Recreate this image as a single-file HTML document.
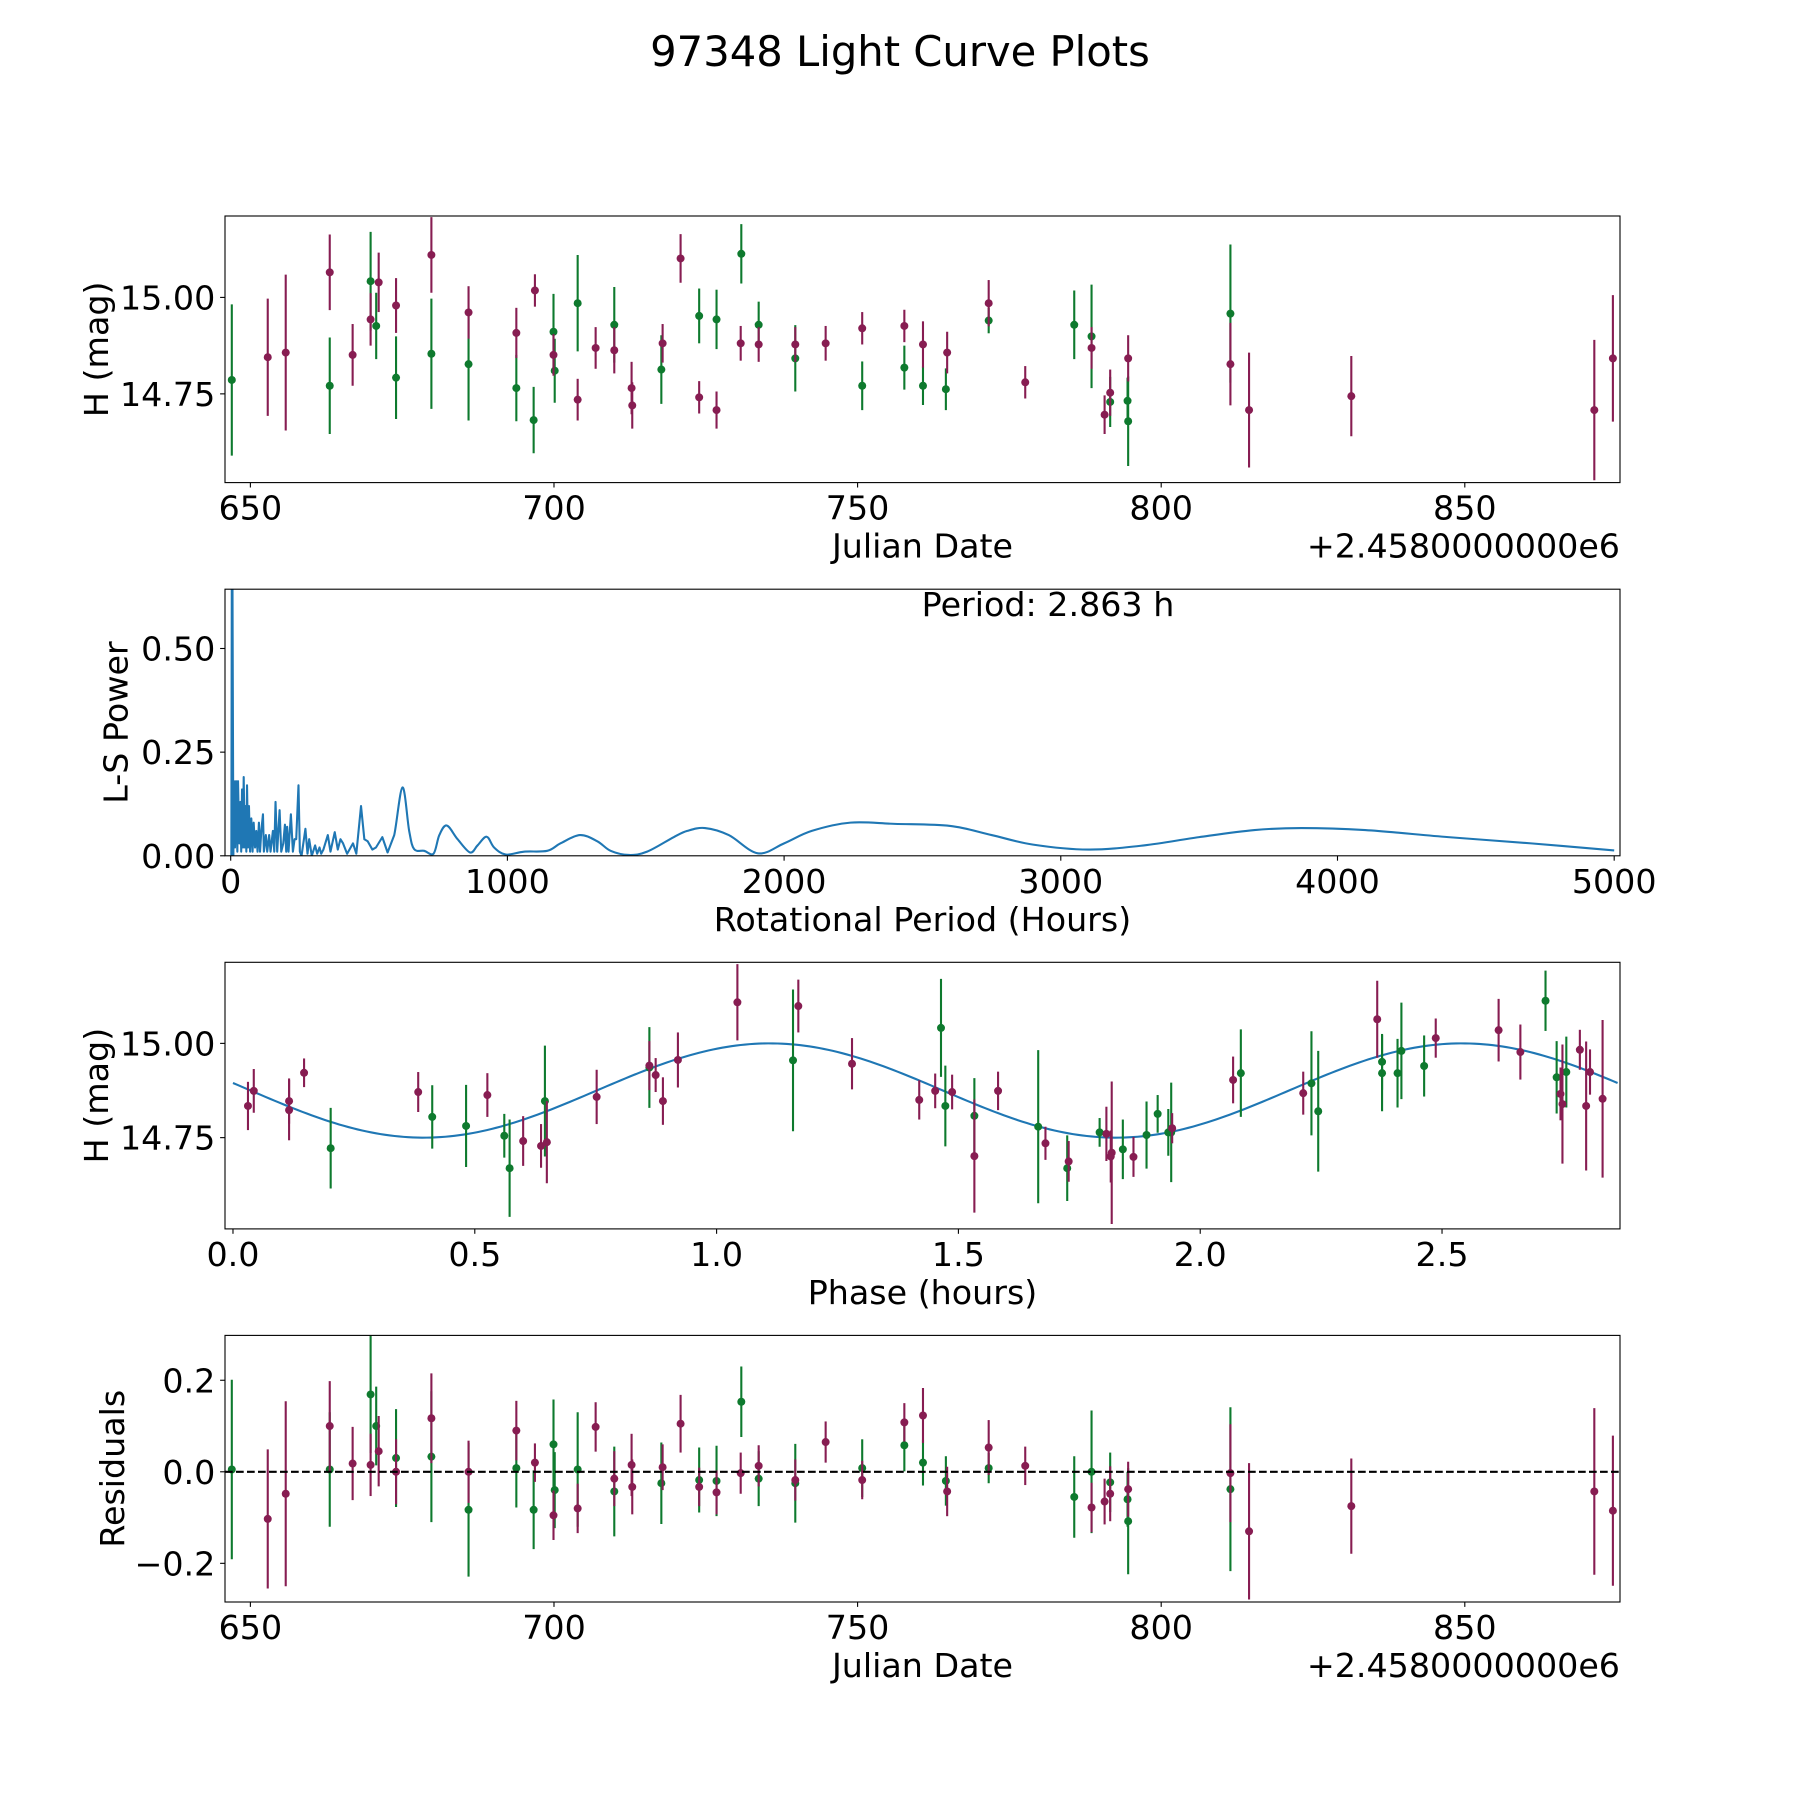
<!DOCTYPE html>
<html><head><meta charset="utf-8"><title>97348 Light Curve Plots</title>
<style>html,body{margin:0;padding:0;background:#fff}svg{display:block}text{font-family:"DejaVu Sans","Liberation Sans",sans-serif;fill:#000}</style>
</head><body>
<svg id="fig" xmlns="http://www.w3.org/2000/svg" width="1800" height="1800" viewBox="0 0 1800 1800">
<rect width="1800" height="1800" fill="#fff"/>
<text x="900" y="66" font-size="41.7" text-anchor="middle">97348 Light Curve Plots</text>
</svg>
<script>
// ---- data: light curve (Julian Date offset +2458000) ----
const greenDates=[646.94,663.07,669.80,670.72,673.99,679.81,685.93,693.80,696.65,699.92,700.12,703.90,709.93,717.68,723.91,726.77,730.85,733.71,739.74,750.76,757.70,760.77,764.54,771.59,785.68,788.53,791.60,794.46,794.56,811.40];
const greenMag=[14.786,14.771,15.042,14.926,14.792,14.854,14.827,14.765,14.682,14.911,14.810,14.985,14.929,14.813,14.952,14.943,15.113,14.929,14.842,14.771,14.818,14.771,14.762,14.940,14.929,14.899,14.729,14.732,14.679,14.958];
const greenErr=[0.196,0.125,0.128,0.086,0.107,0.143,0.146,0.086,0.086,0.098,0.083,0.125,0.098,0.089,0.071,0.077,0.077,0.060,0.086,0.063,0.057,0.050,0.054,0.033,0.089,0.134,0.065,0.060,0.116,0.179];
const greenRes=[0.005,0.005,0.169,0.10,0.03,0.033,-0.083,0.008,-0.083,0.06,-0.04,0.005,-0.043,-0.025,-0.018,-0.02,0.153,-0.015,-0.025,0.008,0.058,0.02,-0.02,0.008,-0.055,0.0,-0.023,-0.06,-0.108,-0.038];
const purpleDates=[652.86,655.82,663.07,666.84,669.80,671.13,673.99,679.81,685.93,693.80,696.86,699.92,703.90,706.86,709.93,712.78,712.89,717.89,720.85,723.91,726.77,730.75,733.71,739.74,744.74,750.76,757.70,760.77,764.75,771.59,777.61,788.53,790.68,791.60,794.56,811.40,814.47,831.31,871.33,874.39];
const purpleMag=[14.845,14.857,15.065,14.851,14.943,15.039,14.979,15.110,14.961,14.908,15.018,14.851,14.735,14.869,14.863,14.765,14.720,14.881,15.101,14.741,14.708,14.881,14.878,14.878,14.881,14.920,14.926,14.878,14.857,14.985,14.780,14.869,14.696,14.753,14.842,14.827,14.708,14.744,14.708,14.842];
const purpleErr=[0.152,0.202,0.098,0.080,0.068,0.077,0.071,0.098,0.068,0.065,0.042,0.054,0.054,0.054,0.060,0.068,0.060,0.050,0.063,0.042,0.048,0.045,0.045,0.045,0.045,0.042,0.042,0.060,0.054,0.060,0.042,0.054,0.050,0.060,0.060,0.107,0.149,0.104,0.182,0.164];
const purpleRes=[-0.103,-0.048,0.10,0.018,0.015,0.045,0.0,0.117,0.0,0.09,0.02,-0.095,-0.08,0.098,-0.015,0.015,-0.033,0.01,0.105,-0.033,-0.045,-0.003,0.013,-0.018,0.065,-0.018,0.108,0.123,-0.043,0.053,0.013,-0.078,-0.065,-0.048,-0.038,-0.003,-0.13,-0.075,-0.043,-0.085];
// ---- data: phased curve ----
const greenPhase=[0.202,0.412,0.482,0.561,0.572,0.645,0.861,1.158,1.464,1.473,1.533,1.665,1.725,1.792,1.840,1.889,1.912,1.934,1.940,2.084,2.230,2.244,2.376,2.376,2.408,2.416,2.463,2.714,2.737,2.757];
const greenPhaseMag=[14.722,14.805,14.781,14.755,14.669,14.847,14.936,14.955,15.041,14.834,14.808,14.779,14.669,14.764,14.719,14.757,14.813,14.764,14.764,14.921,14.894,14.820,14.951,14.921,14.921,14.980,14.940,15.113,14.910,14.924];
const greenPhaseErr=[0.107,0.084,0.109,0.058,0.129,0.147,0.107,0.188,0.130,0.107,0.100,0.203,0.087,0.038,0.079,0.089,0.050,0.062,0.132,0.116,0.138,0.160,0.074,0.101,0.091,0.128,0.081,0.080,0.096,0.094];
const purplePhase=[0.031,0.043,0.116,0.116,0.147,0.383,0.526,0.600,0.637,0.649,0.752,0.861,0.874,0.889,0.920,1.043,1.169,1.280,1.419,1.452,1.487,1.533,1.582,1.680,1.728,1.806,1.817,1.815,1.862,1.942,2.068,2.213,2.366,2.487,2.617,2.662,2.745,2.749,2.785,2.798,2.806,2.832];
const purplePhaseMag=[14.834,14.874,14.847,14.823,14.922,14.871,14.863,14.741,14.728,14.738,14.858,14.941,14.916,14.847,14.956,15.109,15.099,14.946,14.850,14.874,14.871,14.701,14.874,14.735,14.687,14.760,14.710,14.700,14.699,14.775,14.903,14.868,15.064,15.014,15.035,14.977,14.866,14.839,14.983,14.834,14.924,14.853];
const purplePhaseErr=[0.064,0.058,0.06,0.08,0.038,0.053,0.058,0.066,0.058,0.109,0.072,0.065,0.045,0.063,0.073,0.101,0.070,0.068,0.052,0.046,0.046,0.150,0.051,0.044,0.054,0.072,0.189,0.069,0.053,0.040,0.062,0.057,0.102,0.052,0.083,0.073,0.07,0.158,0.053,0.171,0.060,0.209];
// fitted model: mean, amplitude, phase of max, model period (hours)
const fitMean=[14.875];
const fitAmp=[0.125];
const fitPeakPhase=[1.11];
const fitPeriod=[2.863];
// ---- data: Lomb-Scargle periodogram ----
const lsPeriod=[2.4,4.8,7.2,9.6,12,15.6,19.2,24,26.4,31,35,38,41,44.5,47,50.5,54,56.5,59,62.5,66,70,74.5,79,83,88,92.5,97,102,106,110.6,116.6,120,127,132,139,144,152.6,157.5,162,168,176.7,182.7,190,196,200.7,204,209,217.5,224.8,230.8,236.8,245,250,256,270,277.6,283.6,293,305,312.5,321,327,335,351,360.6,376,387,396.6,406,420.7,442,454,471,483,495,512,525,548,567,591,621,645,663,699,733,754,781,820,865,892,925,952,994,1060,1144,1192,1262,1325,1373,1439,1505,1601,1650,1714,1800,1905,2000,2100,2240,2400,2600,2750,2900,3100,3300,3500,3700,3870,4100,4400,4700,5000];
const lsPower=[0.0,1.0,0.49,0.0,0.18,0.02,0.18,0.01,0.18,0.03,0.13,0.01,0.16,0.02,0.19,0.02,0.12,0.01,0.17,0.02,0.12,0.01,0.09,0.01,0.08,0.02,0.06,0.01,0.08,0.01,0.06,0.10,0.01,0.05,0.01,0.05,0.01,0.06,0.01,0.13,0.01,0.11,0.01,0.03,0.075,0.01,0.07,0.01,0.10,0.01,0.04,0.04,0.17,0.01,0.0,0.065,0.005,0.04,0.0,0.025,0.005,0.02,0.005,0.015,0.05,0.01,0.057,0.015,0.04,0.03,0.005,0.03,0.005,0.12,0.04,0.035,0.015,0.02,0.045,0.008,0.05,0.165,0.06,0.016,0.012,0.005,0.05,0.073,0.04,0.008,0.025,0.046,0.02,0.003,0.01,0.012,0.03,0.05,0.035,0.012,0.002,0.01,0.045,0.06,0.067,0.05,0.006,0.03,0.06,0.08,0.077,0.072,0.05,0.027,0.015,0.025,0.045,0.062,0.067,0.062,0.045,0.03,0.013];
// ---- ticks ----
const dateTicks=[650,700,750,800,850];
const magTicks=[14.75,15.00];
const magTickLabels=["14.75","15.00"];
const lsXTicks=[0,1000,2000,3000,4000,5000];
const lsYTicks=[0,0.25,0.5];
const lsYTickLabels=["0.00","0.25","0.50"];
const phaseTicks=[0,0.5,1.0,1.5,2.0,2.5];
const phaseTickLabels=["0.0","0.5","1.0","1.5","2.0","2.5"];
const resTicks=[-0.2,0,0.2];
const resTickLabels=["\u22120.2","0.0","0.2"];

const NS="http://www.w3.org/2000/svg";
const svg=document.getElementById('fig');
const GREEN='#0e7a2e', PURPLE='#871d52', FS=33.3;
const L=225,R=1620,H=266.6;
function mk(tag,attrs,parent){const e=document.createElementNS(NS,tag);for(const k in attrs)e.setAttribute(k,attrs[k]);(parent||svg).appendChild(e);return e;}
function scale(d0,d1,p0,p1){return v=>p0+(v-d0)/(d1-d0)*(p1-p0);}

function makeAxes(idx,top,xmin,xmax,ymin,ymax,name){
  const g=mk('g',{});
  
  
  const cp=mk('clipPath',{id:'clip'+idx},g);
  mk('rect',{x:L,y:top,width:R-L,height:H},cp);
  const plot=mk('g',{'clip-path':'url(#clip'+idx+')'},g);
  
  
  return {g,plot,top,bottom:top+H,x:scale(xmin,xmax,L,R),y:scale(ymin,ymax,top+H,top)};
}
function frame(ax){
  const f=mk('rect',{x:L,y:ax.top,width:R-L,height:H,fill:'none',stroke:'#000','stroke-width':1.1},ax.g);
  
  
}
function xTicks(ax,vals,labels){
  vals.forEach((v,i)=>{
    const px=ax.x(v);
    const t=mk('line',{x1:px,x2:px,y1:ax.bottom,y2:ax.bottom+4.9,stroke:'#000','stroke-width':1.1},ax.g);
    
    
    const tx=mk('text',{x:px,y:ax.bottom+37,'font-size':FS,'text-anchor':'middle'},ax.g);
    tx.textContent=labels[i];
    
    
  });
}
function yTicks(ax,vals,labels){
  vals.forEach((v,i)=>{
    const py=ax.y(v);
    const t=mk('line',{x1:L-4.9,x2:L,y1:py,y2:py,stroke:'#000','stroke-width':1.1},ax.g);
    
    
    const tx=mk('text',{x:L-9.7,y:py+12,'font-size':FS,'text-anchor':'end'},ax.g);
    tx.textContent=labels[i];
    
    
  });
}
function xLabel(ax,text){
  const t=mk('text',{x:(L+R)/2,y:ax.bottom+75,'font-size':FS,'text-anchor':'middle'},ax.g);
  t.textContent=text;
  
  
}
function offsetText(ax){
  const t=mk('text',{x:R,y:ax.bottom+75,'font-size':FS,'text-anchor':'end'},ax.g);
  t.textContent='+2.4580000000e6';
  
  
}
function yLabel(ax,text,cx){
  const cy=ax.top+H/2;
  const t=mk('text',{x:cx,y:cy,'font-size':FS,'text-anchor':'middle','dominant-baseline':'central',transform:'rotate(-90 '+cx+' '+cy+')'},ax.g);
  t.textContent=text;
  
  
}
function errPoints(ax,xs,ys,es,color,name){
  xs.forEach((xv,i)=>{
    const px=ax.x(xv);
    const l=mk('line',{x1:px,x2:px,y1:ax.y(ys[i]-es[i]),y2:ax.y(ys[i]+es[i]),stroke:color,'stroke-width':2.1},ax.plot);
    
    
  });
  xs.forEach((xv,i)=>{
    const c=mk('circle',{cx:ax.x(xv),cy:ax.y(ys[i]),r:4,fill:color},ax.plot);
    
    
  });
}

// ---- Axes 1: light curve ----
const ax1=makeAxes(1,216,645.82,875.56,14.520,15.211,'light-curve-axes');
errPoints(ax1,greenDates,greenMag,greenErr,GREEN,'green-filter');
errPoints(ax1,purpleDates,purpleMag,purpleErr,PURPLE,'purple-filter');
frame(ax1);
xTicks(ax1,dateTicks,dateTicks.map(String));
yTicks(ax1,magTicks,magTickLabels);
xLabel(ax1,'Julian Date');offsetText(ax1);yLabel(ax1,'H (mag)',96.5);

// ---- Axes 2: periodogram ----
const ax2=makeAxes(2,589.2,-20.6,5021,0,0.643,'periodogram-axes');
(function(){
  let d='';
  const pts=lsPeriod.map((p,i)=>[ax2.x(p),ax2.y(lsPower[i])]);
  pts.forEach((p,i)=>{
    if(i===0){d+='M'+p[0].toFixed(2)+' '+p[1].toFixed(2);return;}
    if(lsPeriod[i]<=600){d+=' L'+p[0].toFixed(2)+' '+p[1].toFixed(2);return;}
    const p0=pts[i-2]||pts[i-1],p1=pts[i-1],p3=pts[i+1]||p;
    const c1=[p1[0]+(p[0]-p0[0])/6,p1[1]+(p[1]-p0[1])/6];
    const c2=[p[0]-(p3[0]-p1[0])/6,p[1]-(p3[1]-p1[1])/6];
    d+=' C'+c1.map(v=>v.toFixed(2)).join(' ')+' '+c2.map(v=>v.toFixed(2)).join(' ')+' '+p[0].toFixed(2)+' '+p[1].toFixed(2);
  });
  const path=mk('path',{d:d,fill:'none',stroke:'#1f77b4','stroke-width':2.1,'stroke-linejoin':'round'},ax2.plot);
  
  
})();
frame(ax2);
xTicks(ax2,lsXTicks,lsXTicks.map(String));
yTicks(ax2,lsYTicks,lsYTickLabels);
xLabel(ax2,'Rotational Period (Hours)');yLabel(ax2,'L-S Power',116);
(function(){
  const t=mk('text',{x:1048,y:616,'font-size':FS,'text-anchor':'middle'},ax2.g);
  t.textContent='Period: '+fitPeriod[0].toFixed(3)+' h';
  
  
})();

// ---- Axes 3: phased curve ----
const ax3=makeAxes(3,962.3,-0.0165,2.868,14.508,15.215,'phase-axes');
(function(){
  let d='';const n=300;
  for(let i=0;i<=n;i++){
    const ph=fitPeriod[0]*i/n;
    const m=fitMean[0]+fitAmp[0]*Math.cos(2*Math.PI*(ph-fitPeakPhase[0])/(fitPeriod[0]/2));
    d+=(i?' L':'M')+ax3.x(ph).toFixed(2)+' '+ax3.y(m).toFixed(2);
  }
  const p=mk('path',{d:d,fill:'none',stroke:'#1f77b4','stroke-width':2.1},ax3.plot);
  
  
})();
errPoints(ax3,greenPhase,greenPhaseMag,greenPhaseErr,GREEN,'green-phase');
errPoints(ax3,purplePhase,purplePhaseMag,purplePhaseErr,PURPLE,'purple-phase');
frame(ax3);
xTicks(ax3,phaseTicks,phaseTickLabels);
yTicks(ax3,magTicks,magTickLabels);
xLabel(ax3,'Phase (hours)');yLabel(ax3,'H (mag)',96.5);

// ---- Axes 4: residuals ----
const ax4=makeAxes(4,1335.4,645.82,875.56,-0.2845,0.298,'residuals-axes');
errPoints(ax4,greenDates,greenRes,greenErr,GREEN,'green-residual');
errPoints(ax4,purpleDates,purpleRes,purpleErr,PURPLE,'purple-residual');
(function(){
  const z=ax4.y(0);
  const l=mk('line',{x1:L,x2:R,y1:z,y2:z,stroke:'#000','stroke-width':2.1,'stroke-dasharray':'7.7 3.3'},ax4.plot);
  
  
})();
frame(ax4);
xTicks(ax4,dateTicks,dateTicks.map(String));
yTicks(ax4,resTicks,resTickLabels);
xLabel(ax4,'Julian Date');offsetText(ax4);yLabel(ax4,'Residuals',112.5);
</script>
</body></html>
